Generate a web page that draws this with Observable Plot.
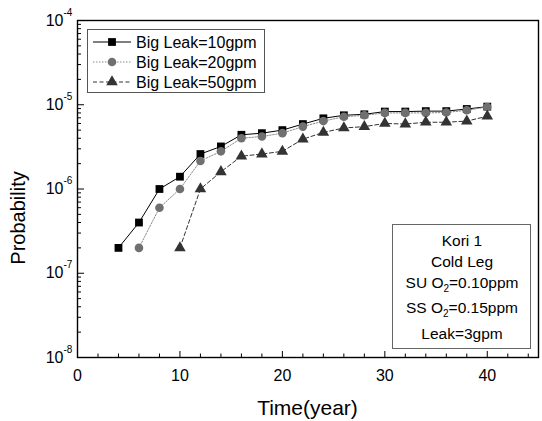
<!DOCTYPE html>
<html><head><meta charset="utf-8">
<script src="https://cdn.jsdelivr.net/npm/d3@7"></script>
<script src="https://cdn.jsdelivr.net/npm/@observablehq/plot@0.6"></script>
<style>body{margin:0;background:#fff}</style>
</head><body><div id="chart"></div>
<script>
// ---- data ----
const seriesNames = ["Big Leak=10gpm", "Big Leak=20gpm", "Big Leak=50gpm"];
const years10 = [4,6,8,10,12,14,16,18,20,22,24,26,28,30,32,34,36,38,40];
const prob10  = [2e-7,4e-7,1e-6,1.4e-6,2.6e-6,3.2e-6,4.4e-6,4.6e-6,5.0e-6,5.9e-6,6.9e-6,7.5e-6,7.7e-6,8.3e-6,8.3e-6,8.4e-6,8.4e-6,8.9e-6,9.5e-6];
const years20 = [6,8,10,12,14,16,18,20,22,24,26,28,30,32,34,36,38,40];
const prob20  = [2e-7,6e-7,1e-6,2.15e-6,2.8e-6,4.0e-6,4.2e-6,4.6e-6,5.5e-6,6.4e-6,7.2e-6,7.5e-6,8.0e-6,8.0e-6,8.0e-6,8.1e-6,8.6e-6,9.4e-6];
const years50 = [10,12,14,16,18,20,22,24,26,28,30,32,34,36,38,40];
const prob50  = [2e-7,1e-6,1.6e-6,2.45e-6,2.6e-6,2.8e-6,3.9e-6,4.7e-6,5.3e-6,5.5e-6,6.0e-6,5.9e-6,6.2e-6,6.2e-6,6.4e-6,7.3e-6];
const xMajorTicks = [0,10,20,30,40];
const xMinorTicks = [2,4,6,8,12,14,16,18,22,24,26,28,32,34,36,38,42,44];
const yDecades = [1e-8,1e-7,1e-6,1e-5,1e-4];
const yExponents = ["-8","-7","-6","-5","-4"];
const annotationLines = [["Kori 1"],["Cold Leg"],["SU O","2","=0.10ppm"],["SS O","2","=0.15ppm"],["Leak=3gpm"]];
const xTitle = "Time(year)";
const yTitle = "Probability";

const yMinorTicks = [];
for (const d of [1e-8,1e-7,1e-6,1e-5]) for (let k = 2; k <= 9; k++) yMinorTicks.push(k*d);

const rows = (xs, ys) => xs.map((x,i) => ({x, y: ys[i]}));
const d10 = rows(years10, prob10), d20 = rows(years20, prob20), d50 = rows(years50, prob50);

const styles = [
  {stroke:"#000", dash:null, fill:"#000", symbol:"square", r:4.4},
  {stroke:"#8a8a8a", dash:"1.5,1.5", fill:"#707070", symbol:"circle", r:4.3},
  {stroke:"#333", dash:"4,2.5", fill:"#333", symbol:"triangle", r:4.3}
];
const datasets = [d10, d20, d50];

const font = "'Liberation Sans', Arial, Helvetica, sans-serif";
const marks = [];
datasets.forEach((d,i) => {
  const s = styles[i];
  marks.push(Plot.line(d, {x:"x", y:"y", stroke:s.stroke, strokeWidth:1, strokeDasharray:s.dash}));
});
datasets.forEach((d,i) => {
  const s = styles[i];
  marks.push(Plot.dot(d, {x:"x", y:"y", symbol:s.symbol, r:s.r, fill:s.fill, stroke:"none"}));
});
marks.push(
  Plot.axisX({ticks: xMajorTicks, tickSize: -6, text: null, stroke:"#000"}),
  Plot.axisX({ticks: xMinorTicks, tickSize: -3.5, text: null, stroke:"#000"}),
  Plot.axisX({ticks: xMajorTicks, tickSize: 0, tickPadding: 12, fontSize: 16, label: null, fill:"#000"}),
  Plot.axisY({ticks: yDecades, tickSize: -7, text: null, stroke:"#000"}),
  Plot.axisY({ticks: yMinorTicks, tickSize: -4, text: null, stroke:"#000"}),
  Plot.text(yDecades, {y: d => d, text: () => "10", frameAnchor: "left", dx: -14, textAnchor: "end", fontSize: 16, fill:"#000"}),
  Plot.text(yDecades, {y: d => d, text: (d,i) => yExponents[i], frameAnchor: "left", dx: -14, dy: -8, textAnchor: "start", fontSize: 10, fill:"#000"}),
  Plot.frame({stroke:"#000", strokeWidth:1.4})
);

const chart = Plot.plot({
  width: 542, height: 421,
  marginLeft: 77, marginRight: 4, marginTop: 20, marginBottom: 64,
  style: {fontFamily: font, fontSize: "16px", background: "#fff", color: "#000"},
  x: {domain: [0,45], label: null},
  y: {type: "log", domain: [1e-8,1e-4], label: null},
  marks
});
document.getElementById("chart").appendChild(chart);

const svg = d3.select(chart);

// ---- axis titles ----
svg.append("text").attr("x", 307.5).attr("y", 415).attr("text-anchor", "middle")
  .attr("font-family", font).attr("font-size", 21).attr("fill", "#000").text(xTitle);
svg.append("text").attr("transform", "translate(25,218) rotate(-90)").attr("text-anchor", "middle")
  .attr("font-family", font).attr("font-size", 20).attr("fill", "#000").text(yTitle);

// ---- legend (top-left box) ----
const lg = svg.append("g").attr("font-family", font).attr("font-size", 16);
lg.append("rect").attr("x", 87.5).attr("y", 29.5).attr("width", 177).attr("height", 63)
  .attr("fill", "#fff").attr("stroke", "#555").attr("stroke-width", 1);
const symMap = {square: d3.symbolSquare, circle: d3.symbolCircle, triangle: d3.symbolTriangle};
seriesNames.forEach((name, i) => {
  const s = styles[i];
  const cy = 42 + i*20;
  lg.append("line").attr("x1", 93).attr("x2", 131).attr("y1", cy).attr("y2", cy)
    .attr("stroke", s.stroke).attr("stroke-width", 1).attr("stroke-dasharray", s.dash);
  lg.append("path").attr("transform", `translate(112,${cy})`)
    .attr("d", d3.symbol(symMap[s.symbol], Math.PI*s.r*s.r)()).attr("fill", s.fill);
  lg.append("text").attr("x", 136).attr("y", cy + 6).attr("text-anchor", "start").attr("fill", "#000").text(name);
});

// ---- annotation box ----
const ag = svg.append("g").attr("font-family", font).attr("font-size", 15.5);
ag.append("rect").attr("x", 392.5).attr("y", 224.5).attr("width", 138).attr("height", 124)
  .attr("fill", "#fff").attr("stroke", "#666").attr("stroke-width", 1);
const lineY = [240, 261, 282, 307, 333];
annotationLines.forEach((parts, i) => {
  const t = ag.append("text").attr("x", 462).attr("y", lineY[i] + 5.5).attr("text-anchor", "middle").attr("fill", "#000");
  if (parts.length === 1) t.text(parts[0]);
  else {
    t.append("tspan").text(parts[0]);
    t.append("tspan").attr("font-size", 10).attr("dy", 4).text(parts[1]);
    t.append("tspan").attr("dy", -4).text(parts[2]);
  }
});
</script>
</body></html>
